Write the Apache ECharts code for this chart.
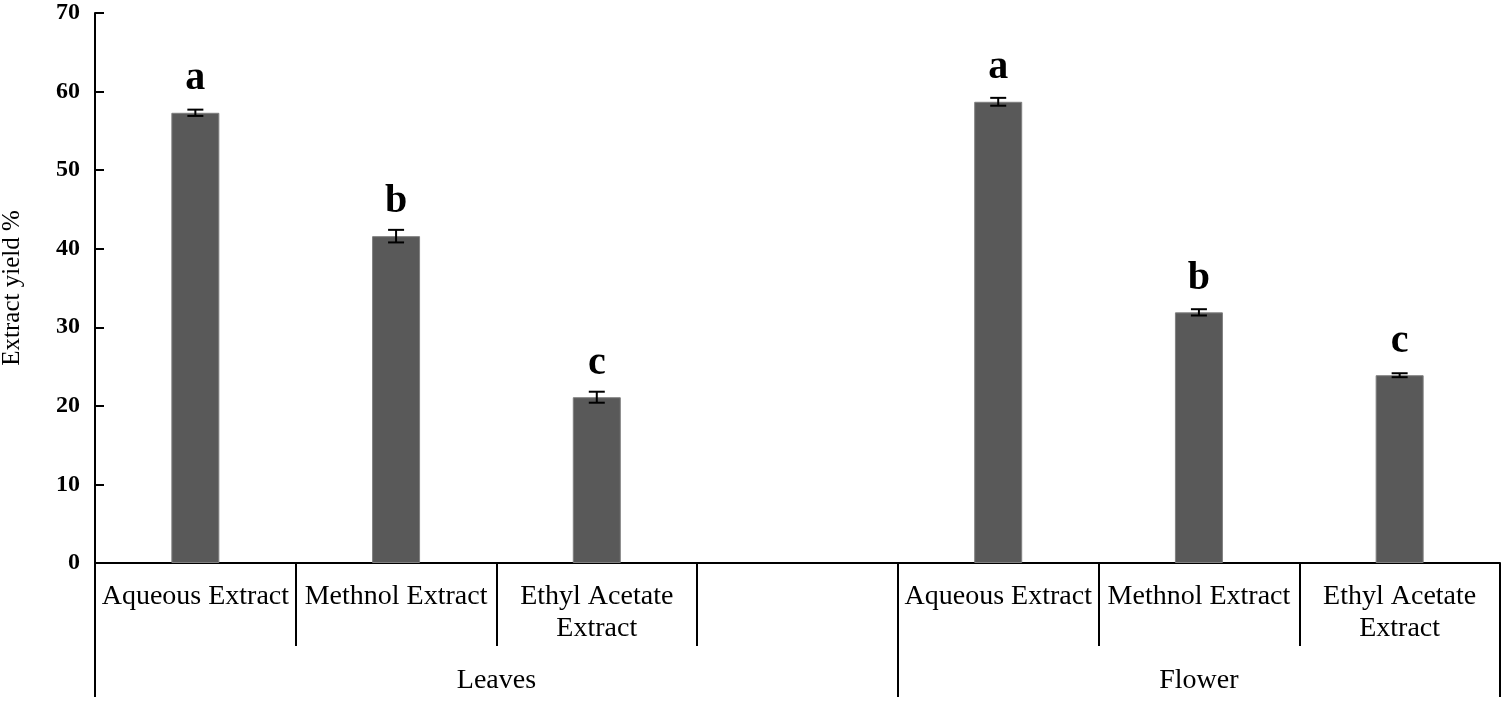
<!DOCTYPE html>
<html><head><meta charset="utf-8">
<script src="https://cdn.jsdelivr.net/npm/echarts@6/dist/echarts.min.js"></script>
<style>html,body{margin:0;padding:0;background:#fff}#c{width:1505px;height:702px}</style>
</head><body><div id="c"></div>
<script>
// ---- data ----
const categories = ['Aqueous Extract', 'Methnol Extract', 'Ethyl Acetate\nExtract', '', 'Aqueous Extract', 'Methnol Extract', 'Ethyl Acetate\nExtract'];
const groups = ['Leaves', 'Flower'];
const groupSizes = [4, 3];
const yieldValues = [57.3, 41.6, 21.1, null, 58.7, 31.9, 23.9];
const yieldErrors = [0.4, 0.8, 0.7, null, 0.5, 0.4, 0.25];
const letters = ['a', 'b', 'c', '', 'a', 'b', 'c'];
const yMin = 0, yMax = 70, yStep = 10;
const yTitle = 'Extract yield %';

// ---- derived ----
const boundaries = [];
const groupCenters = [];
let acc = 0;
groupSizes.forEach(s => { boundaries.push(acc); groupCenters.push(acc + s / 2); acc += s; });
const total = acc;
const errData = [];
yieldValues.forEach((v, i) => { if (v != null) errData.push([i, v - yieldErrors[i], v + yieldErrors[i]]); });

const serif = '"Liberation Serif", "DejaVu Serif", serif';
const chart = echarts.init(document.getElementById('c'), null, { renderer: 'canvas' });
chart.setOption({
  animation: false,
  backgroundColor: '#fff',
  grid: { left: 95, right: 5, top: 13, bottom: 139, containLabel: false, outerBoundsMode: 'none' },
  xAxis: [
    {
      type: 'category', data: categories, boundaryGap: true,
      axisLine: { show: true, lineStyle: { color: '#000', width: 2 } },
      axisTick: { show: true, interval: 0, length: 83, lineStyle: { color: '#000', width: 2 } },
      axisLabel: { interval: 0, margin: 18, color: '#000', fontFamily: serif, fontSize: 28, lineHeight: 32 },
      splitLine: { show: false }
    },
    {
      type: 'category', data: categories, boundaryGap: true, position: 'bottom',
      axisLine: { show: false },
      axisTick: { show: true, interval: (i) => boundaries.indexOf(i) >= 0, length: 134, lineStyle: { color: '#000', width: 2 } },
      axisLabel: { show: false },
      splitLine: { show: false }
    },
    {
      type: 'value', min: 0, max: total, interval: 0.5, position: 'bottom',
      axisLine: { show: false }, axisTick: { show: false }, splitLine: { show: false },
      axisLabel: {
        margin: 104, color: '#000', fontFamily: serif, fontSize: 28, showMinLabel: true, showMaxLabel: true,
        formatter: (v) => { const k = groupCenters.indexOf(v); return k >= 0 ? groups[k] : ''; }
      }
    }
  ],
  yAxis: {
    type: 'value', min: yMin, max: yMax, interval: yStep,
    name: yTitle, nameLocation: 'middle', nameGap: 70,
    nameTextStyle: { color: '#000', fontFamily: serif, fontSize: 25 },
    axisLine: { show: true, lineStyle: { color: '#000', width: 2 } },
    axisTick: { show: true, inside: true, length: 9, lineStyle: { color: '#000', width: 2 } },
    axisLabel: { margin: 15, color: '#000', fontFamily: serif, fontWeight: 'bold', fontSize: 24 },
    splitLine: { show: false }
  },
  series: [
    {
      type: 'bar', xAxisIndex: 0, yAxisIndex: 0, data: yieldValues, barWidth: 48,
      itemStyle: { color: '#595959', borderColor: '#7f7f7f', borderWidth: 1 },
      label: {
        show: true, position: 'top', distance: 14,
        formatter: (p) => letters[p.dataIndex],
        color: '#000', fontFamily: serif, fontWeight: 'bold', fontSize: 40
      },
      z: 2
    },
    {
      type: 'custom', xAxisIndex: 0, yAxisIndex: 0, data: errData,
      encode: { x: 0, y: [1, 2] },
      renderItem: function (params, api) {
        const x = api.value(0);
        const top = api.coord([x, api.value(2)]);
        const bot = api.coord([x, api.value(1)]);
        const hw = 8;
        const st = { stroke: '#000', lineWidth: 2 };
        return {
          type: 'group', children: [
            { type: 'line', shape: { x1: top[0], y1: top[1], x2: bot[0], y2: bot[1] }, style: st },
            { type: 'line', shape: { x1: top[0] - hw, y1: top[1], x2: top[0] + hw, y2: top[1] }, style: st },
            { type: 'line', shape: { x1: bot[0] - hw, y1: bot[1], x2: bot[0] + hw, y2: bot[1] }, style: st }
          ]
        };
      },
      z: 3
    }
  ]
});
</script>
</body></html>
